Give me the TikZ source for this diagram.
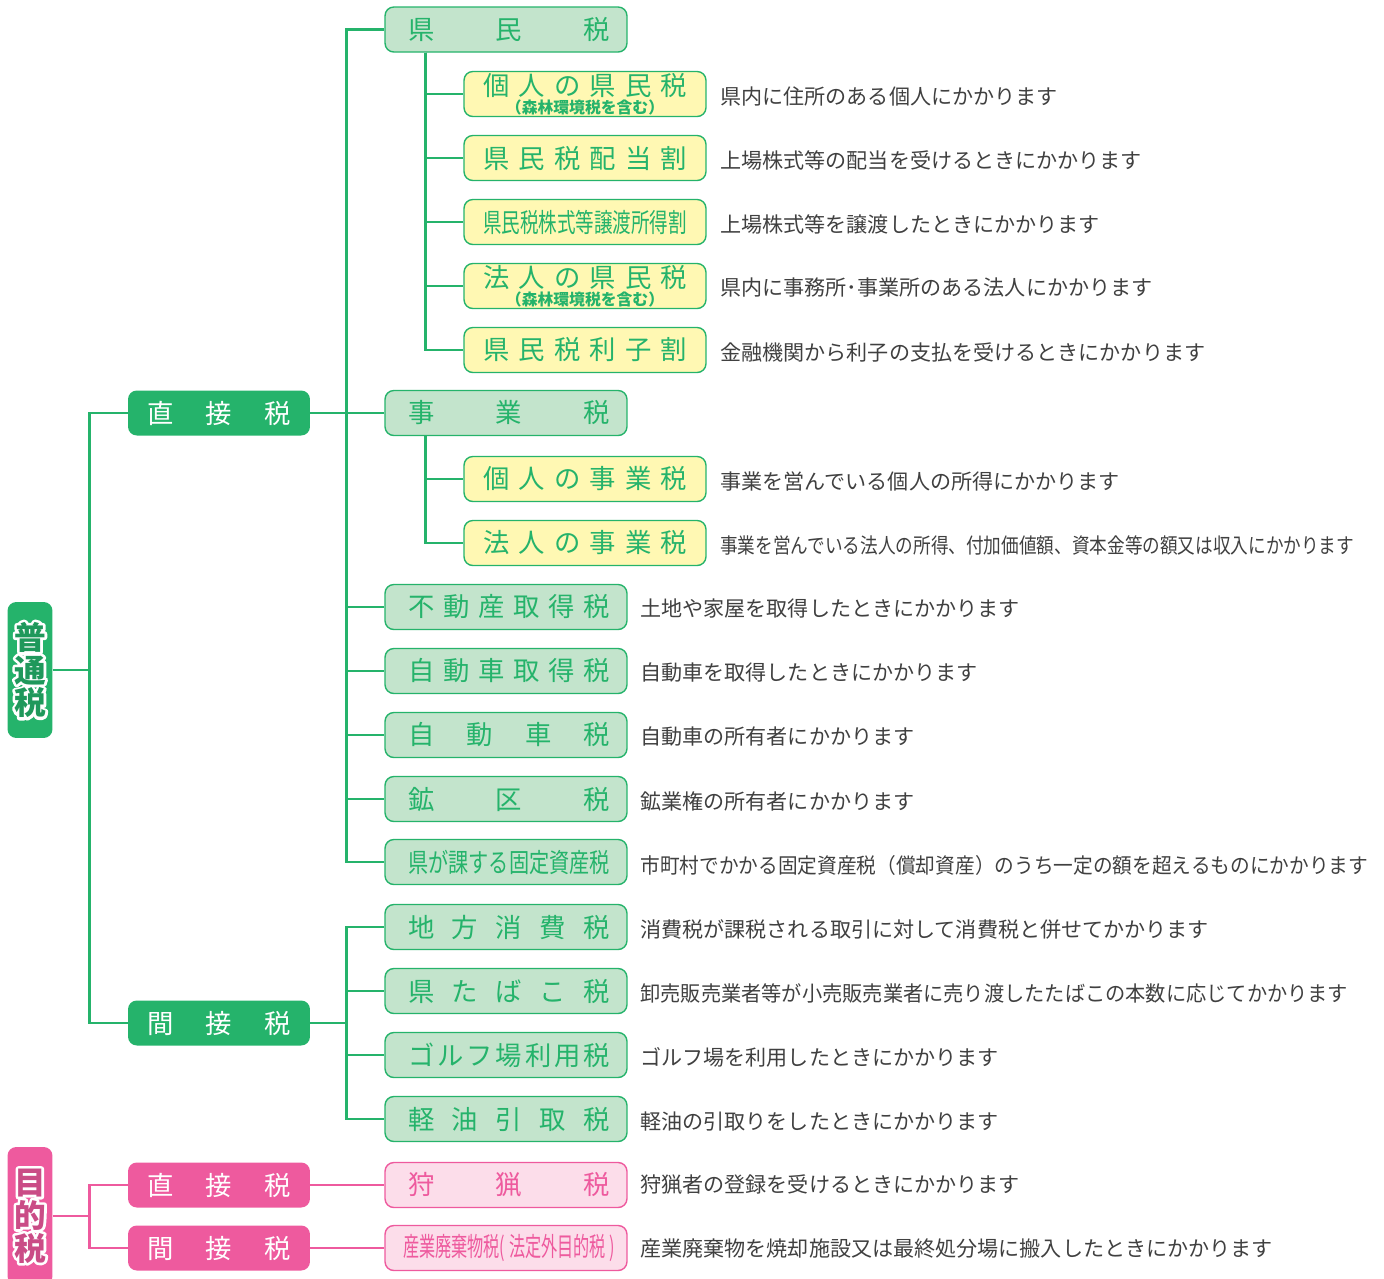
\documentclass[tikz,border=0pt]{standalone}
\usepackage{fontspec}
\usepackage{graphicx}
\setmainfont{Noto Sans CJK JP}
\usepackage{tikz}
\definecolor{TaxGreen}{HTML}{25B36B}
\definecolor{LeafGreen}{HTML}{C3E4CC}
\definecolor{LeafYellow}{HTML}{FFF8B3}
\definecolor{TaxPink}{HTML}{EE5A9E}
\definecolor{LeafPink}{HTML}{FCDDEA}
\definecolor{NoteGray}{HTML}{404040}
\newcommand{\spread}[2]{\makebox[#1]{#2}}
\newcommand{\tspread}[1]{\hspace*{0.12cm}\makebox[4.04cm]{#1}}
\newcommand{\squeeze}[2]{\resizebox{#1}{\height}{#2}}
\newcommand{\outlined}[1]{\rlap{\color{white}\special{pdf:literal direct 1 Tr 3 w 1 j}#1\special{pdf:literal direct 0 Tr}}#1}
\newcommand{\forestnote}{\\[-4.5pt]{\fontsize{9}{9}\selectfont\bfseries（森林環境税を含む）}}

\begin{document}
\begin{tikzpicture}[x=0.02cm,y=-0.02cm,
  rootbox/.style={fill=#1,text=#1!85!black,rounded corners=5pt,minimum width=0.9cm,
    inner sep=0pt,align=center,font=\bfseries\fontsize{18}{18.7}\selectfont},
  midbox/.style={fill=#1,text=white,rounded corners=5pt,minimum width=3.64cm,
    minimum height=0.9cm,inner sep=0pt,font=\fontsize{15}{15}\selectfont},
  taxbox/.style={draw=TaxGreen,fill=LeafGreen,text=TaxGreen,line width=0.8pt,
    rounded corners=5pt,minimum width=4.84cm,minimum height=0.9cm,inner sep=0pt,
    align=center,font=\fontsize{15}{15}\selectfont},
  subbox/.style={taxbox,fill=LeafYellow},
  huntbox/.style={taxbox,draw=TaxPink,fill=LeafPink,text=TaxPink},
  note/.style={anchor=west,inner sep=0pt,text=NoteGray,font=\fontsize{12}{12}\selectfont},
  wire/.style={draw=TaxGreen,line width=1.6pt},
  pinkwire/.style={draw=TaxPink,line width=1.6pt}]
\useasboundingbox (0,0) rectangle (1384,1279);

% roots
\node[rootbox=TaxGreen,minimum height=2.72cm] (futsu) at (30,670)
     {\outlined{普}\\\outlined{通}\\\outlined{税}};
\node[rootbox=TaxPink,minimum height=2.76cm] (mokuteki) at (30,1216)
     {\outlined{目}\\\outlined{的}\\\outlined{税}};

% direct / indirect
\node[midbox=TaxGreen] (chok) at (219,413) {\spread{2.88cm}{直\hfill 接\hfill 税}};
\node[midbox=TaxGreen] (kan) at (219,1023) {\spread{2.88cm}{間\hfill 接\hfill 税}};
\node[midbox=TaxPink] (pchok) at (219,1185) {\spread{2.88cm}{直\hfill 接\hfill 税}};
\node[midbox=TaxPink] (pkan) at (219,1248) {\spread{2.88cm}{間\hfill 接\hfill 税}};

% taxes
\node[taxbox] (kenmin) at (506,29.5) {\tspread{県\hfill 民\hfill 税}};
\node[taxbox] (jigyo) at (506,413) {\tspread{事\hfill 業\hfill 税}};
\node[taxbox] (fudosan) at (506,607) {\tspread{不\hfill 動\hfill 産\hfill 取\hfill 得\hfill 税}};
\node[taxbox] (jishu) at (506,671) {\tspread{自\hfill 動\hfill 車\hfill 取\hfill 得\hfill 税}};
\node[taxbox] (jido) at (506,735) {\tspread{自\hfill 動\hfill 車\hfill 税}};
\node[taxbox] (koku) at (506,799) {\tspread{鉱\hfill 区\hfill 税}};
\node[taxbox] (kotei) at (506,862) {\hspace*{0.12cm}\squeeze{4.04cm}{県が課する固定資産税}};
\node[taxbox] (chiho) at (506,927) {\tspread{地\hfill 方\hfill 消\hfill 費\hfill 税}};
\node[taxbox] (tabako) at (506,991) {\tspread{県\hfill た\hfill ば\hfill こ\hfill 税}};
\node[taxbox] (golf) at (506,1055) {\tspread{ゴ\hfill ル\hfill フ\hfill 場\hfill 利\hfill 用\hfill 税}};
\node[taxbox] (keiyu) at (506,1119) {\tspread{軽\hfill 油\hfill 引\hfill 取\hfill 税}};
\node[huntbox] (shuryo) at (506,1185) {\tspread{狩\hfill 猟\hfill 税}};
\node[huntbox] (sanpai) at (506,1248) {\hspace*{0.12cm}\squeeze{4.24cm}{産業廃棄物税( 法定外目的税 )}};

% sub taxes
\node[subbox] (kojinken) at (585,94)
     {\spread{4.08cm}{個\hfill 人\hfill の\hfill 県\hfill 民\hfill 税}\forestnote};
\node[subbox] (haito) at (585,158) {\spread{4.08cm}{県\hfill 民\hfill 税\hfill 配\hfill 当\hfill 割}};
\node[subbox] (joto) at (585,222) {\squeeze{4.08cm}{県民税株式等譲渡所得割}};
\node[subbox] (hojinken) at (585,286)
     {\spread{4.08cm}{法\hfill 人\hfill の\hfill 県\hfill 民\hfill 税}\forestnote};
\node[subbox] (rishi) at (585,350) {\spread{4.08cm}{県\hfill 民\hfill 税\hfill 利\hfill 子\hfill 割}};
\node[subbox] (kojinji) at (585,479) {\spread{4.08cm}{個\hfill 人\hfill の\hfill 事\hfill 業\hfill 税}};
\node[subbox] (hojinji) at (585,543) {\spread{4.08cm}{法\hfill 人\hfill の\hfill 事\hfill 業\hfill 税}};

% connectors
\foreach \t in {chok,kan} \draw[wire] (futsu.east) -- ++(37,0) |- (\t.west);
\foreach \t in {kenmin,jigyo,fudosan,jishu,jido,koku,kotei}
  \draw[wire] (chok.east) -- ++(36,0) |- (\t.west);
\foreach \t in {chiho,tabako,golf,keiyu}
  \draw[wire] (kan.east) -- ++(36,0) |- (\t.west);
\foreach \t in {kojinken,haito,joto,hojinken,rishi}
  \draw[wire] (kenmin.south west) ++(41,0) |- (\t.west);
\foreach \t in {kojinji,hojinji}
  \draw[wire] (jigyo.south west) ++(41,0) |- (\t.west);
\foreach \t in {pchok,pkan} \draw[pinkwire] (mokuteki.east) -- ++(37,0) |- (\t.west);
\draw[pinkwire] (pchok.east) -- (shuryo.west);
\draw[pinkwire] (pkan.east) -- (sanpai.west);

% notes
\node[note] (n-kojinken) at (720,96) {県内に住所のある個人にかかります};
\node[note] (n-haito) at (720,160) {上場株式等の配当を受けるときにかかります};
\node[note] (n-joto) at (720,224) {上場株式等を譲渡したときにかかります};
\node[note] (n-hojinken) at (720,288) {県内に事務所･事業所のある法人にかかります};
\node[note] (n-rishi) at (720,352) {金融機関から利子の支払を受けるときにかかります};
\node[note] (n-kojinji) at (720,481) {事業を営んでいる個人の所得にかかります};
\node[note] (n-hojinji) at (720,545)
     {\squeeze{12.68cm}{事業を営んでいる法人の所得、付加価値額、資本金等の額又は収入にかかります}};
\node[note] (n-fudosan) at (640,609) {土地や家屋を取得したときにかかります};
\node[note] (n-jishu) at (640,673) {自動車を取得したときにかかります};
\node[note] (n-jido) at (640,737) {自動車の所有者にかかります};
\node[note] (n-koku) at (640,801) {鉱業権の所有者にかかります};
\node[note] (n-kotei) at (640,865)
     {\squeeze{14.56cm}{市町村でかかる固定資産税（償却資産）のうち一定の額を超えるものにかかります}};
\node[note] (n-chiho) at (640,929) {消費税が課税される取引に対して消費税と併せてかかります};
\node[note] (n-tabako) at (640,993)
     {\squeeze{14.16cm}{卸売販売業者等が小売販売業者に売り渡したたばこの本数に応じてかかります}};
\node[note] (n-golf) at (640,1057) {ゴルフ場を利用したときにかかります};
\node[note] (n-keiyu) at (640,1121) {軽油の引取りをしたときにかかります};
\node[note] (n-shuryo) at (640,1185) {狩猟者の登録を受けるときにかかります};
\node[note] (n-sanpai) at (640,1249) {産業廃棄物を焼却施設又は最終処分場に搬入したときにかかります};
\end{tikzpicture}
\end{document}
